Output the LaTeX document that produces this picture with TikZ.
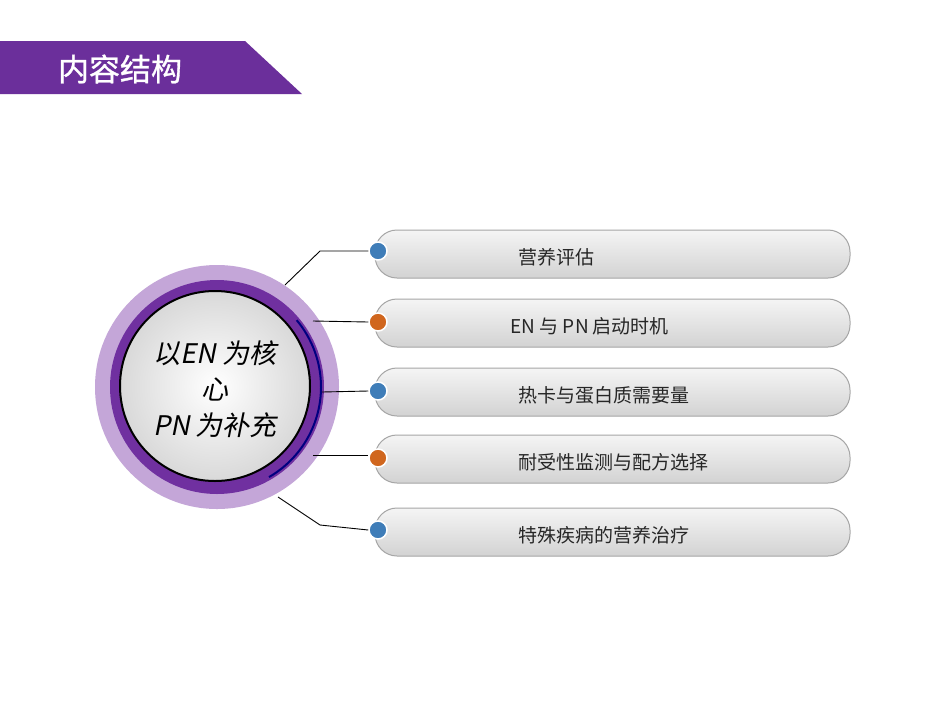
\documentclass[tikz,border=0pt]{standalone}
\usepackage{fontspec}
\setmainfont{Noto Sans CJK SC}
\newfontfamily\cjkslant[FakeSlant=0.2]{Noto Sans CJK SC}
\newfontfamily\cjkbold[FakeBold=1]{Noto Sans CJK SC}
\definecolor{banner}{HTML}{6B2F9B}
\definecolor{ringlight}{HTML}{C4A6D8}
\definecolor{ringdark}{HTML}{7030A0}
\definecolor{dotblue}{HTML}{3F7DB8}
\definecolor{dotorange}{HTML}{D0661E}
\tikzset{
  bar/.style={rounded corners=22pt, draw=gray!70, line width=1pt, top color=gray!8, bottom color=gray!35},
  dotb/.style={circle, minimum size=18pt, inner sep=0pt, fill=dotblue, draw=white, line width=1.5pt},
  doto/.style={circle, minimum size=18pt, inner sep=0pt, fill=dotorange, draw=white, line width=1.5pt},
  lab/.style={anchor=west, font=\fontsize{19pt}{22pt}\selectfont, text=black!85},
  conn/.style={draw=black, line width=0.9pt}
}
\begin{document}
\begin{tikzpicture}[x=1pt,y=-1pt]
\useasboundingbox (0,0) rectangle (950,713);
\fill[white] (0,0) rectangle (950,713);
% banner
\fill[banner] (0,41) -- (245,41) -- (302,94) -- (0,94) -- cycle;
\node[text=white, font=\cjkbold\fontsize{31pt}{34pt}\selectfont] (title) at (120,69) {内容结构};
% circle
\fill[ringlight] (217,387) circle (122);
\fill[ringdark] (217,387) circle (107);
\draw[blue!50!black, line width=2pt] (217,387) ++(60:104) arc (60:-40:104);
\draw[black, line width=2pt, inner color=white, outer color=gray!30] (215,386) circle (95);
\node[align=center, font=\cjkslant\fontsize{27pt}{36pt}\selectfont] (core) at (215,389) {以EN 为核\\心\\PN 为补充};
% bars
\foreach \y/\t/\xx [count=\i] in {254/营养评估/515, 323/EN 与 PN 启动时机/507, 392/热卡与蛋白质需要量/515, 459/耐受性监测与配方选择/515, 532/特殊疾病的营养治疗/515}{
  \draw[bar] (375,\y-24) rectangle (850,\y+24);
  \node[lab] (t\i) at (\xx,\y+3) {\t};
}
\node[dotb] (d1) at (378,251) {};
\node[doto] (d2) at (378,322) {};
\node[dotb] (d3) at (378,391) {};
\node[doto] (d4) at (378,458) {};
\node[dotb] (d5) at (378,530) {};
\coordinate (c1) at (285,285);
\coordinate (c2) at (313,321);
\coordinate (c3) at (322,392);
\coordinate (c4) at (313,455);
\coordinate (c5) at (278,497);
\draw[conn] (c1) -- (320,251) -- (d1.west);
\draw[conn] (c2) -- (d2.west);
\draw[conn] (c3) -- (d3.west);
\draw[conn] (c4) -- (d4.west |- c4);
\draw[conn] (c5) -- (320,525) -- (d5.west);
\end{tikzpicture}
\end{document}
